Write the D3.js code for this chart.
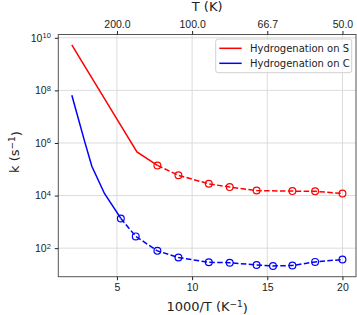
<!DOCTYPE html>
<html>
<head>
<meta charset="utf-8">
<script src="https://cdn.jsdelivr.net/npm/d3@7"></script>
<style>
  body { margin: 0; background: #fff; }
  svg { font-family: 'DejaVu Sans', sans-serif; }
</style>
</head>
<body>
<svg id="chart" width="357" height="315"></svg>
<script>
// 1000/T (K^-1) and k (s^-1)
const sSolidX = [2, 2.5, 3.33, 4, 5, 6.33, 7.69]
const sSolidK = [5.4e9, 1.8e9, 3.0e8, 7.1e7, 8.1e6, 4.6e5, 1.4e5]
const sDashX = [7.69, 9.09, 11.11, 12.5, 14.29, 16.67, 18.18, 20]
const sDashK = [1.4e5, 5.9e4, 2.8e4, 2.1e4, 1.55e4, 1.48e4, 1.45e4, 1.2e4]

const cSolidX = [2, 2.86, 3.33, 4.17, 5.26]
const cSolidK = [6.5e7, 1.1e6, 1.3e5, 1.2e4, 1350]
const cDashX = [5.26, 6.25, 7.69, 9.09, 11.11, 12.5, 14.29, 15.38, 16.67, 18.18, 20]
const cDashK = [1350, 280, 79, 44, 29, 28, 23, 21, 22, 30, 37]

const xTicks = [5, 10, 15, 20]
const topTickLabels = ['200.0', '100.0', '66.7', '50.0']
const yTickExp = [2, 4, 6, 8, 10]
const legendLabels = ['Hydrogenation on S', 'Hydrogenation on C']
const colors = ['#ff0000', '#0000ff']

const svg = d3.select('#chart')
const plotL = 58.3
const plotR = 356
const plotT = 34.5
const plotB = 276.7

const x = d3.scaleLinear().domain([1.1, 20.9]).range([plotL, plotR])
const y = d3.scaleLog().domain([Math.pow(10, 0.915), Math.pow(10, 10.125)]).range([plotB, plotT])

// grid
const grid = svg.append('g')
grid.selectAll('.gx').data(xTicks).enter().append('line')
  .attr('x1', d => x(d)).attr('x2', d => x(d))
  .attr('y1', plotT).attr('y2', plotB)
  .attr('stroke', '#dcdcdc').attr('stroke-width', 1)
grid.selectAll('.gy').data(yTickExp).enter().append('line')
  .attr('x1', plotL).attr('x2', plotR)
  .attr('y1', d => y(Math.pow(10, d))).attr('y2', d => y(Math.pow(10, d)))
  .attr('stroke', '#dcdcdc').attr('stroke-width', 1)

// series
const line = d3.line().x(d => x(d[0])).y(d => y(d[1]))
const series = [
  { solid: d3.zip(sSolidX, sSolidK), dash: d3.zip(sDashX, sDashK), color: colors[0] },
  { solid: d3.zip(cSolidX, cSolidK), dash: d3.zip(cDashX, cDashK), color: colors[1] }
]
series.forEach(s => {
  svg.append('path').attr('d', line(s.solid))
    .attr('fill', 'none').attr('stroke', s.color).attr('stroke-width', 1.5)
  svg.append('path').attr('d', line(s.dash))
    .attr('fill', 'none').attr('stroke', s.color).attr('stroke-width', 1.5)
    .attr('stroke-dasharray', '5.5,2.4')
  svg.append('g').selectAll('circle').data(s.dash).enter().append('circle')
    .attr('cx', d => x(d[0])).attr('cy', d => y(d[1])).attr('r', 3.4)
    .attr('fill', 'none').attr('stroke', s.color).attr('stroke-width', 1.2)
})

// frame
svg.append('rect')
  .attr('x', plotL).attr('y', plotT)
  .attr('width', plotR - plotL).attr('height', plotB - plotT)
  .attr('fill', 'none').attr('stroke', '#555').attr('stroke-width', 1)

// bottom axis
const xb = svg.append('g')
  .attr('transform', `translate(0,${plotB})`)
  .call(d3.axisBottom(x).tickValues(xTicks).tickSize(3.5).tickPadding(3.5).tickFormat(d3.format('d')))
xb.select('.domain').remove()
xb.selectAll('text').attr('font-size', 10.5).attr('fill', '#222')
xb.selectAll('line').attr('stroke', '#222')

// top axis
const xt = svg.append('g')
  .attr('transform', `translate(0,${plotT})`)
  .call(d3.axisTop(x).tickValues(xTicks).tickSize(3.5).tickPadding(3.5).tickFormat((d, i) => topTickLabels[i]))
xt.select('.domain').remove()
xt.selectAll('text').attr('font-size', 10.5).attr('fill', '#222')
xt.selectAll('line').attr('stroke', '#222')

// left axis with superscript labels
const yl = svg.append('g')
  .attr('transform', `translate(${plotL},0)`)
  .call(d3.axisLeft(y).tickValues(yTickExp.map(e => Math.pow(10, e))).tickSize(3.5).tickPadding(4).tickFormat(''))
yl.select('.domain').remove()
yl.selectAll('line').attr('stroke', '#222')
yl.selectAll('.tick').each(function (d, i) {
  const t = d3.select(this).select('text')
    .attr('font-size', 10.5).attr('fill', '#222')
  t.text('10')
  t.append('tspan').attr('dy', '-0.45em').attr('font-size', 7.5).text(yTickExp[i])
})

// axis titles
svg.append('text').attr('x', (plotL + plotR) / 2).attr('y', 311)
  .attr('text-anchor', 'middle').attr('font-size', 13).attr('fill', '#222')
  .text('1000/T (K')
  .call(t => {
    t.append('tspan').attr('dy', '-0.45em').attr('font-size', 9).text('−1')
    t.append('tspan').attr('dy', '0.45em').text(')')
  })

svg.append('text').attr('x', (plotL + plotR) / 2).attr('y', 11)
  .attr('text-anchor', 'middle').attr('font-size', 13).attr('fill', '#222')
  .text('T (K)')

svg.append('text').attr('transform', 'translate(19,152) rotate(-90)')
  .attr('text-anchor', 'middle').attr('font-size', 13).attr('fill', '#222')
  .text('k (s')
  .call(t => {
    t.append('tspan').attr('dy', '-0.45em').attr('font-size', 9).text('−1')
    t.append('tspan').attr('dy', '0.45em').text(')')
  })

// legend
const lg = svg.append('g')
lg.append('rect').attr('x', 215.7).attr('y', 39).attr('width', 136).attr('height', 33.7)
  .attr('rx', 2.5).attr('fill', '#fff').attr('fill-opacity', 0.8)
  .attr('stroke', '#d0d0d0').attr('stroke-width', 1)
legendLabels.forEach((lab, i) => {
  const ly = 48.3 + i * 15
  lg.append('line').attr('x1', 219.3).attr('x2', 241.7).attr('y1', ly).attr('y2', ly)
    .attr('stroke', colors[i]).attr('stroke-width', 1.5)
  lg.append('text').attr('x', 250).attr('y', ly + 3.6)
    .attr('font-size', 10).attr('fill', '#222').text(lab)
})
</script>
</body>
</html>
